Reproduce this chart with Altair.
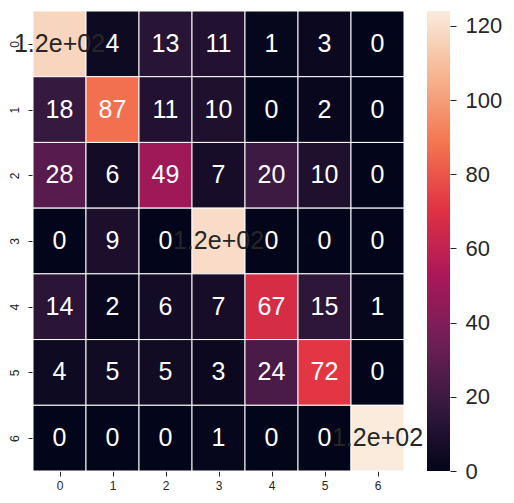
import altair as alt
import pandas as pd

rows = ["0", "1", "2", "3", "4", "5", "6"]
cols = ["0", "1", "2", "3", "4", "5", "6"]
values = [
    [117, 4, 13, 11, 1, 3, 0],
    [18, 87, 11, 10, 0, 2, 0],
    [28, 6, 49, 7, 20, 10, 0],
    [0, 9, 0, 119, 0, 0, 0],
    [14, 2, 6, 7, 67, 15, 1],
    [4, 5, 5, 3, 24, 72, 0],
    [0, 0, 0, 1, 0, 0, 124],
]
cbar_ticks = [0, 20, 40, 60, 80, 100, 120]
# seaborn "rocket" colormap stops
rocket = ["#03051a", "#35193e", "#701f57", "#ad1759", "#e13342", "#f37651", "#f6b48f", "#faebdd"]

recs = []
for i, r in enumerate(rows):
    for j, c in enumerate(cols):
        v = values[i][j]
        recs.append({"row": r, "col": c, "ri": i, "ri1": i + 1, "rm": i + 0.5,
                     "ci": j, "ci1": j + 1, "cm": j + 0.5,
                     "v": v, "label": format(v, ".2g")})
df = pd.DataFrame(recs)

vmin = 0
vmax = max(max(r) for r in values)
n = len(rocket) - 1
dom = [vmin + (vmax - vmin) * k / n for k in range(n + 1)]

FONT = "Liberation Sans"
W, H = 371, 460
xticks = [j + 0.5 for j in range(len(cols))]
yticks = [i + 0.5 for i in range(len(rows))]

xs = alt.Scale(domain=[0, len(cols)], nice=False, zero=False)
ys = alt.Scale(domain=[0, len(rows)], nice=False, zero=False, reverse=True)

xaxis = alt.Axis(title=None, values=xticks, labelExpr="floor(datum.value)", labelAngle=0,
                 labelFontSize=12, tickSize=5, labelPadding=4, domain=False, grid=False,
                 tickColor="#262626", labelColor="#262626", labelFont=FONT)
yaxis = alt.Axis(title=None, values=yticks, labelExpr="floor(datum.value)", labelAngle=270,
                 labelFontSize=12, tickSize=5, labelPadding=7, domain=False, grid=False,
                 tickColor="#262626", labelColor="#262626", labelFont=FONT)

rects = alt.Chart(df).mark_rect(stroke="white", strokeWidth=1).encode(
    x=alt.X("ci:Q", scale=xs, axis=xaxis), x2="ci1:Q",
    y=alt.Y("ri:Q", scale=ys, axis=yaxis), y2="ri1:Q",
    color=alt.Color("v:Q", scale=alt.Scale(domain=dom, range=rocket, interpolate="rgb"),
                    legend=None),
)
texts = alt.Chart(df).mark_text(fontSize=25, font=FONT).encode(
    x=alt.X("cm:Q", scale=xs, axis=xaxis), y=alt.Y("rm:Q", scale=ys, axis=yaxis),
    text="label:N",
    color=alt.condition(alt.datum.v > 100, alt.value("#262626"), alt.value("white")),
)
heat = alt.layer(rects, texts).properties(width=W, height=H)

cb_df = pd.DataFrame({"lo": [vmin], "hi": [vmax]})
grad = alt.LinearGradient(
    gradient="linear",
    stops=[alt.GradientStop(color=c, offset=k / n) for k, c in enumerate(rocket)],
    x1=0, x2=0, y1=1, y2=0,
)
cbar = alt.Chart(cb_df).mark_rect(color=grad).encode(
    x=alt.value(0), x2=alt.value(23),
    y=alt.Y("lo:Q", scale=alt.Scale(domain=[vmin, vmax], nice=False, zero=False),
            axis=alt.Axis(orient="right", values=cbar_ticks, title=None, labelFontSize=22,
                          tickSize=6, labelPadding=9, domain=False, grid=False,
                          tickColor="#262626", labelColor="#262626", labelFont=FONT)),
    y2="hi:Q",
).properties(width=23, height=H)

chart = alt.hconcat(heat, cbar, spacing=23, bounds="flush").properties(
    padding={"left": 0, "top": 2, "right": 0, "bottom": 0}
).configure_view(stroke=None).configure_axis(grid=False)

chart.save("out.html", embed_options={"renderer": "svg", "actions": False})
